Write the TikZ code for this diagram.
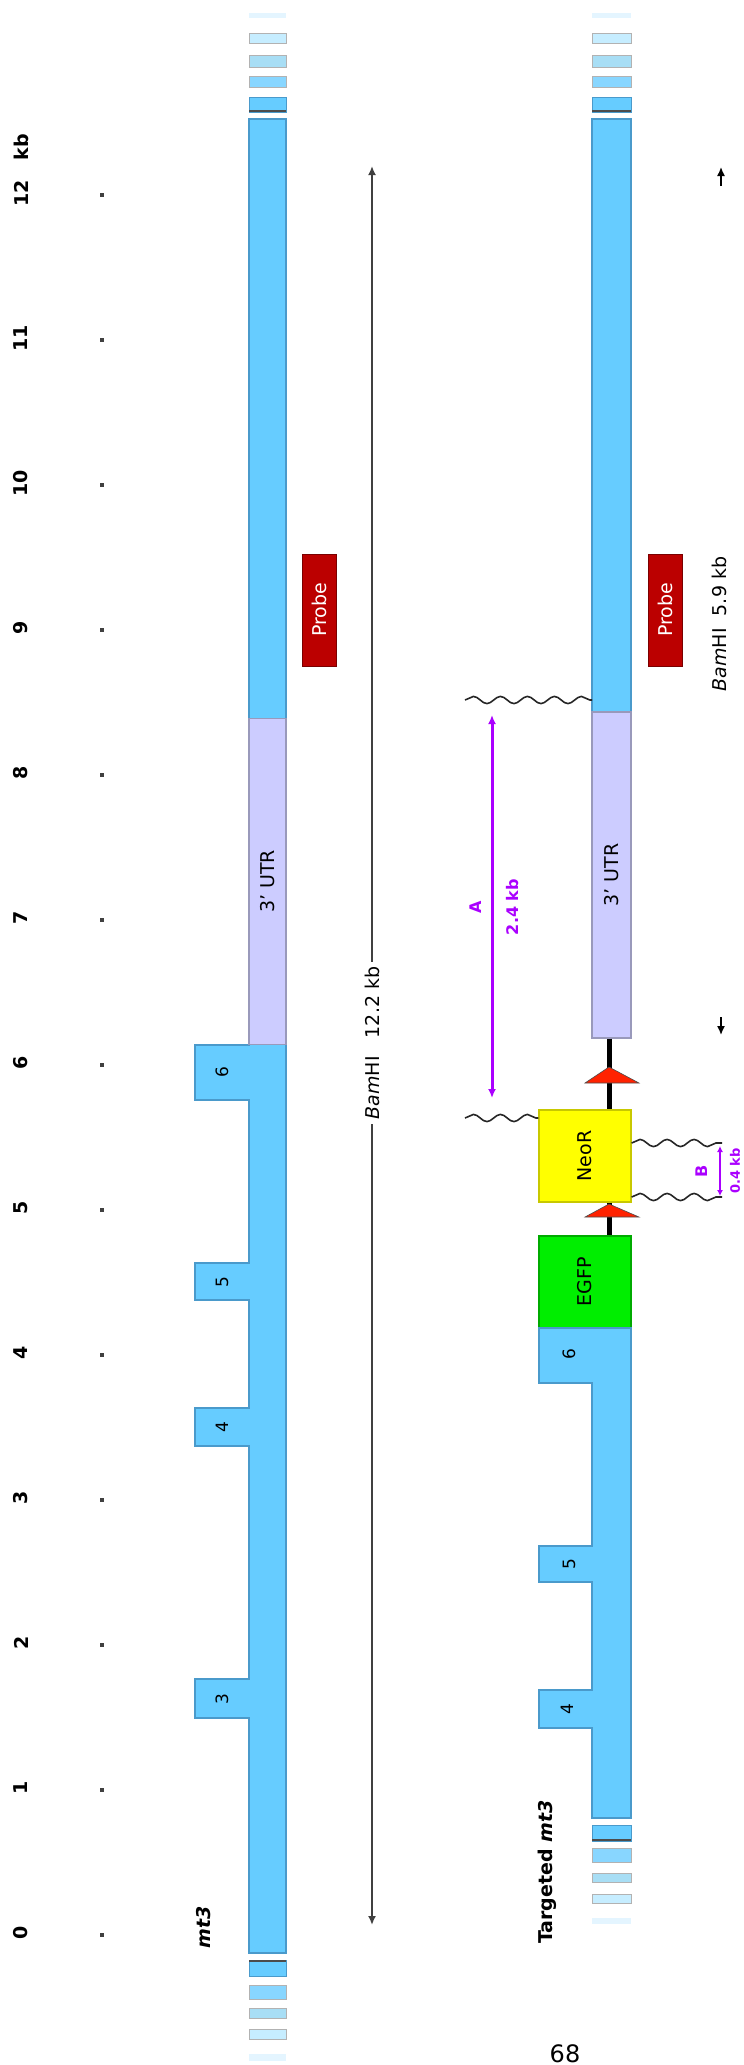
\documentclass[tikz,border=0pt]{standalone}
\usepackage{fontspec}
\setmainfont{DejaVu Sans}
\usetikzlibrary{arrows.meta,decorations.pathmorphing}
\definecolor{exblue}{HTML}{66CCFF}
\definecolor{exedge}{HTML}{4A9ACB}
\definecolor{utrfill}{HTML}{CCCCFF}
\definecolor{utredge}{HTML}{9999BB}
\definecolor{probefill}{HTML}{BB0000}
\definecolor{probeedge}{HTML}{7A0000}
\definecolor{neofill}{HTML}{FFFF00}
\definecolor{neoedge}{HTML}{C8C800}
\definecolor{gfpfill}{HTML}{00EE00}
\definecolor{gfpedge}{HTML}{00AA00}
\definecolor{loxred}{HTML}{FF2200}
\definecolor{purp}{HTML}{AA00FF}
\definecolor{st1}{HTML}{66CCFF}
\definecolor{st2}{HTML}{88D6FF}
\definecolor{st3}{HTML}{A8DEF5}
\definecolor{st4}{HTML}{C6EDFF}
\definecolor{st5}{HTML}{E4F5FF}
\newcommand\mylab{\fontsize{19}{22}\selectfont}
\newcommand\myex{\fontsize{17}{20}\selectfont}
\newcommand\mysc{\fontsize{19}{22}\selectfont\bfseries}
\newcommand\mypur{\fontsize{16}{18}\selectfont\bfseries}
\begin{document}
\begin{tikzpicture}[x=1pt,y=-1pt,
  exon/.style={fill=exblue,draw=exedge,line width=1.2pt},
  utrbox/.style={fill=utrfill,draw=utredge,line width=1.2pt,minimum width=#1,minimum height=326,inner sep=0pt},
  probebox/.style={fill=probefill,draw=probeedge,line width=1pt,minimum width=34,minimum height=112,inner sep=0pt,text=white},
  cassette/.style={line width=1.2pt,minimum width=92,minimum height=92,inner sep=0pt},
  rot/.style={rotate=90,inner sep=1pt},
  scalenum/.style={rotate=90,inner sep=0pt,font=\mysc},
  tickdot/.style={fill=black!75,minimum size=4.5,inner sep=0pt},
  wave/.style={decorate,decoration={snake,amplitude=3.6,segment length=27},line width=1.6pt,black!85},
  linker/.style={line width=5pt,black},
  lox/.style={fill=loxred,draw=black!70,line width=0.6pt},
  bamline/.style={{Latex[length=9,width=8]}-{Latex[length=9,width=8]},line width=2.2pt,black!75},
  purarrow/.style={{Latex[length=9,width=8]}-{Latex[length=9,width=8]},line width=3pt,purp},
  stripe/.style={draw=black!30,line width=0.8pt}
]
\useasboundingbox (0,0) rectangle (744,2065);

% ---------- scale ----------
\foreach \k in {0,...,12}{
  \node[tickdot] (t\k) at (102,1935-145*\k) {};
  \node[scalenum] (n\k) at (21,1933-145*\k) {\k};
}
\node[scalenum] (kb) at (21,147) {kb};

% ---------- wild-type gene ----------
\fill[st5] (249,13) rectangle (286,18);
\filldraw[fill=st4,stripe] (249,33) rectangle (286,43);
\filldraw[fill=st3,stripe] (249,55) rectangle (286,67);
\filldraw[fill=st2,stripe] (249,76) rectangle (286,87);
\filldraw[fill=st1,draw=exedge,line width=0.8pt] (249,97) rectangle (286,112);
\draw[black!70,line width=2pt] (249,111) -- (286,111);

\path[exon] (249,119) -- (286,119) -- (286,1953) -- (249,1953)
  -- (249,1718) -- (195,1718) -- (195,1679) -- (249,1679)
  -- (249,1446) -- (195,1446) -- (195,1408) -- (249,1408)
  -- (249,1300) -- (195,1300) -- (195,1263) -- (249,1263)
  -- (249,1100) -- (195,1100) -- (195,1045) -- (249,1045) -- cycle;

\filldraw[fill=st1,draw=exedge,line width=0.8pt] (249,1960) rectangle (286,1976);
\draw[black!70,line width=2pt] (249,1961) -- (286,1961);
\filldraw[fill=st2,stripe] (249,1985) rectangle (286,1999);
\filldraw[fill=st3,stripe] (249,2008) rectangle (286,2018);
\filldraw[fill=st4,stripe] (249,2029) rectangle (286,2039);
\fill[st5] (249,2054) rectangle (286,2061);

\node[utrbox=37] (utr1) at (267.5,881.5) {\rotatebox{90}{\mylab 3' UTR}};
\node[probebox] (probe1) at (319,610) {\rotatebox{90}{\mylab Probe}};

\node[rot,font=\myex] (e6a) at (222,1072) {6};
\node[rot,font=\myex] (e5a) at (222,1282) {5};
\node[rot,font=\myex] (e4a) at (222,1427) {4};
\node[rot,font=\myex] (e3a) at (222,1699) {3};

\node[rot,font=\mylab\bfseries\itshape] (wtname) at (204,1927) {mt3};

% BamHI 12.2 kb
\coordinate (b1top) at (372,166);
\coordinate (b1bot) at (372,1925);
\draw[bamline] (b1top) -- (b1bot);
\node[rot,fill=white,inner sep=5pt,font=\mylab] (bam1) at (372,1043) {\textit{Bam}HI\ \ \ 12.2 kb};

% ---------- targeted gene ----------
\fill[st5] (592,13) rectangle (631,18);
\filldraw[fill=st4,stripe] (592,33) rectangle (631,43);
\filldraw[fill=st3,stripe] (592,55) rectangle (631,67);
\filldraw[fill=st2,stripe] (592,76) rectangle (631,87);
\filldraw[fill=st1,draw=exedge,line width=0.8pt] (592,97) rectangle (631,112);
\draw[black!70,line width=2pt] (592,111) -- (631,111);

\path[exon] (592,119) rectangle (631,713);
\node[utrbox=39] (utr2) at (611.5,875) {\rotatebox{90}{\mylab 3' UTR}};
\node[probebox] (probe2) at (665.5,610) {\rotatebox{90}{\mylab Probe}};

\node[cassette,fill=neofill,draw=neoedge] (neo) at (585,1156) {\rotatebox{90}{\mylab NeoR}};
\node[cassette,fill=gfpfill,draw=gfpedge] (egfp) at (585,1282) {\rotatebox{90}{\mylab EGFP}};

\path[exon] (539,1328) -- (631,1328) -- (631,1818) -- (592,1818)
  -- (592,1728) -- (539,1728) -- (539,1690) -- (592,1690)
  -- (592,1582) -- (539,1582) -- (539,1546) -- (592,1546)
  -- (592,1383) -- (539,1383) -- cycle;

\filldraw[fill=st1,draw=exedge,line width=0.8pt] (592,1825) rectangle (631,1841);
\draw[black!70,line width=2pt] (592,1840) -- (631,1840);
\filldraw[fill=st2,stripe] (592,1848) rectangle (631,1862);
\filldraw[fill=st3,stripe] (592,1873) rectangle (631,1882);
\filldraw[fill=st4,stripe] (592,1894) rectangle (631,1903);
\fill[st5] (592,1918) rectangle (631,1924);

\node[rot,font=\myex] (e6b) at (569,1354) {6};
\node[rot,font=\myex] (e5b) at (569,1564) {5};
\node[rot,font=\myex] (e4b) at (567,1709) {4};

\node[rot,font=\mylab\bfseries] (tgname) at (547,1872) {Targeted \textit{mt3}};

% linkers and loxP
\draw[linker] (utr2.south -| 609,0) -- (neo.north -| 609,0);
\draw[linker] (neo.south -| 609,0) -- (egfp.north -| 609,0);
\path[lox] (585,1083) -- (639,1083) -- (609,1067) -- cycle;
\path[lox] (585,1217) -- (639,1217) -- (609,1204) -- cycle;

% wavy lines
\coordinate (w1) at (465,700);
\coordinate (w1e) at (592,700);
\draw[wave] (w1) -- (w1e);
\coordinate (w2) at (465,1118);
\draw[wave] (w2) -- (w2 -| neo.west);
\coordinate (w3) at (722,1143);
\draw[wave] (w3 -| neo.east) -- (w3);
\coordinate (w4) at (722,1197);
\draw[wave] (w4 -| neo.east) -- (w4);

% purple arrows
\coordinate (atop) at (492,715);
\coordinate (abot) at (492,1098);
\draw[purarrow] (atop) -- (abot);
\node[rot,font=\mypur,text=purp] (alab) at (476,907) {A};
\node[rot,font=\mypur,text=purp] (akb) at (513,907) {2.4 kb};

\coordinate (btop) at (720,1146);
\coordinate (bbot) at (720,1196);
\draw[{Latex[length=6,width=6]}-{Latex[length=6,width=6]},line width=2.4pt,purp] (btop) -- (bbot);
\node[rot,font=\mypur,text=purp] (blab) at (702,1171) {B};
\node[rot,font=\fontsize{13}{15}\selectfont\bfseries,text=purp] (bkb) at (735,1171) {0.4 kb};

% BamHI 5.9 kb
\coordinate (b2top) at (721,167);
\coordinate (b2ta) at (721,186);
\coordinate (b2bot) at (721,1035);
\coordinate (b2ba) at (721,1017);
\draw[-{Latex[length=9,width=8]},line width=1.5pt,black] (b2ta) -- (b2top);
\draw[-{Latex[length=9,width=8]},line width=1.5pt,black] (b2ba) -- (b2bot);
\node[rot,fill=white,inner sep=6pt,font=\mylab] (bam2) at (719,624) {\textit{Bam}HI\ \ 5.9 kb};

% page number
\node[font=\fontsize{24}{26}\selectfont] (pg) at (565,2054) {68};
\end{tikzpicture}
\end{document}
